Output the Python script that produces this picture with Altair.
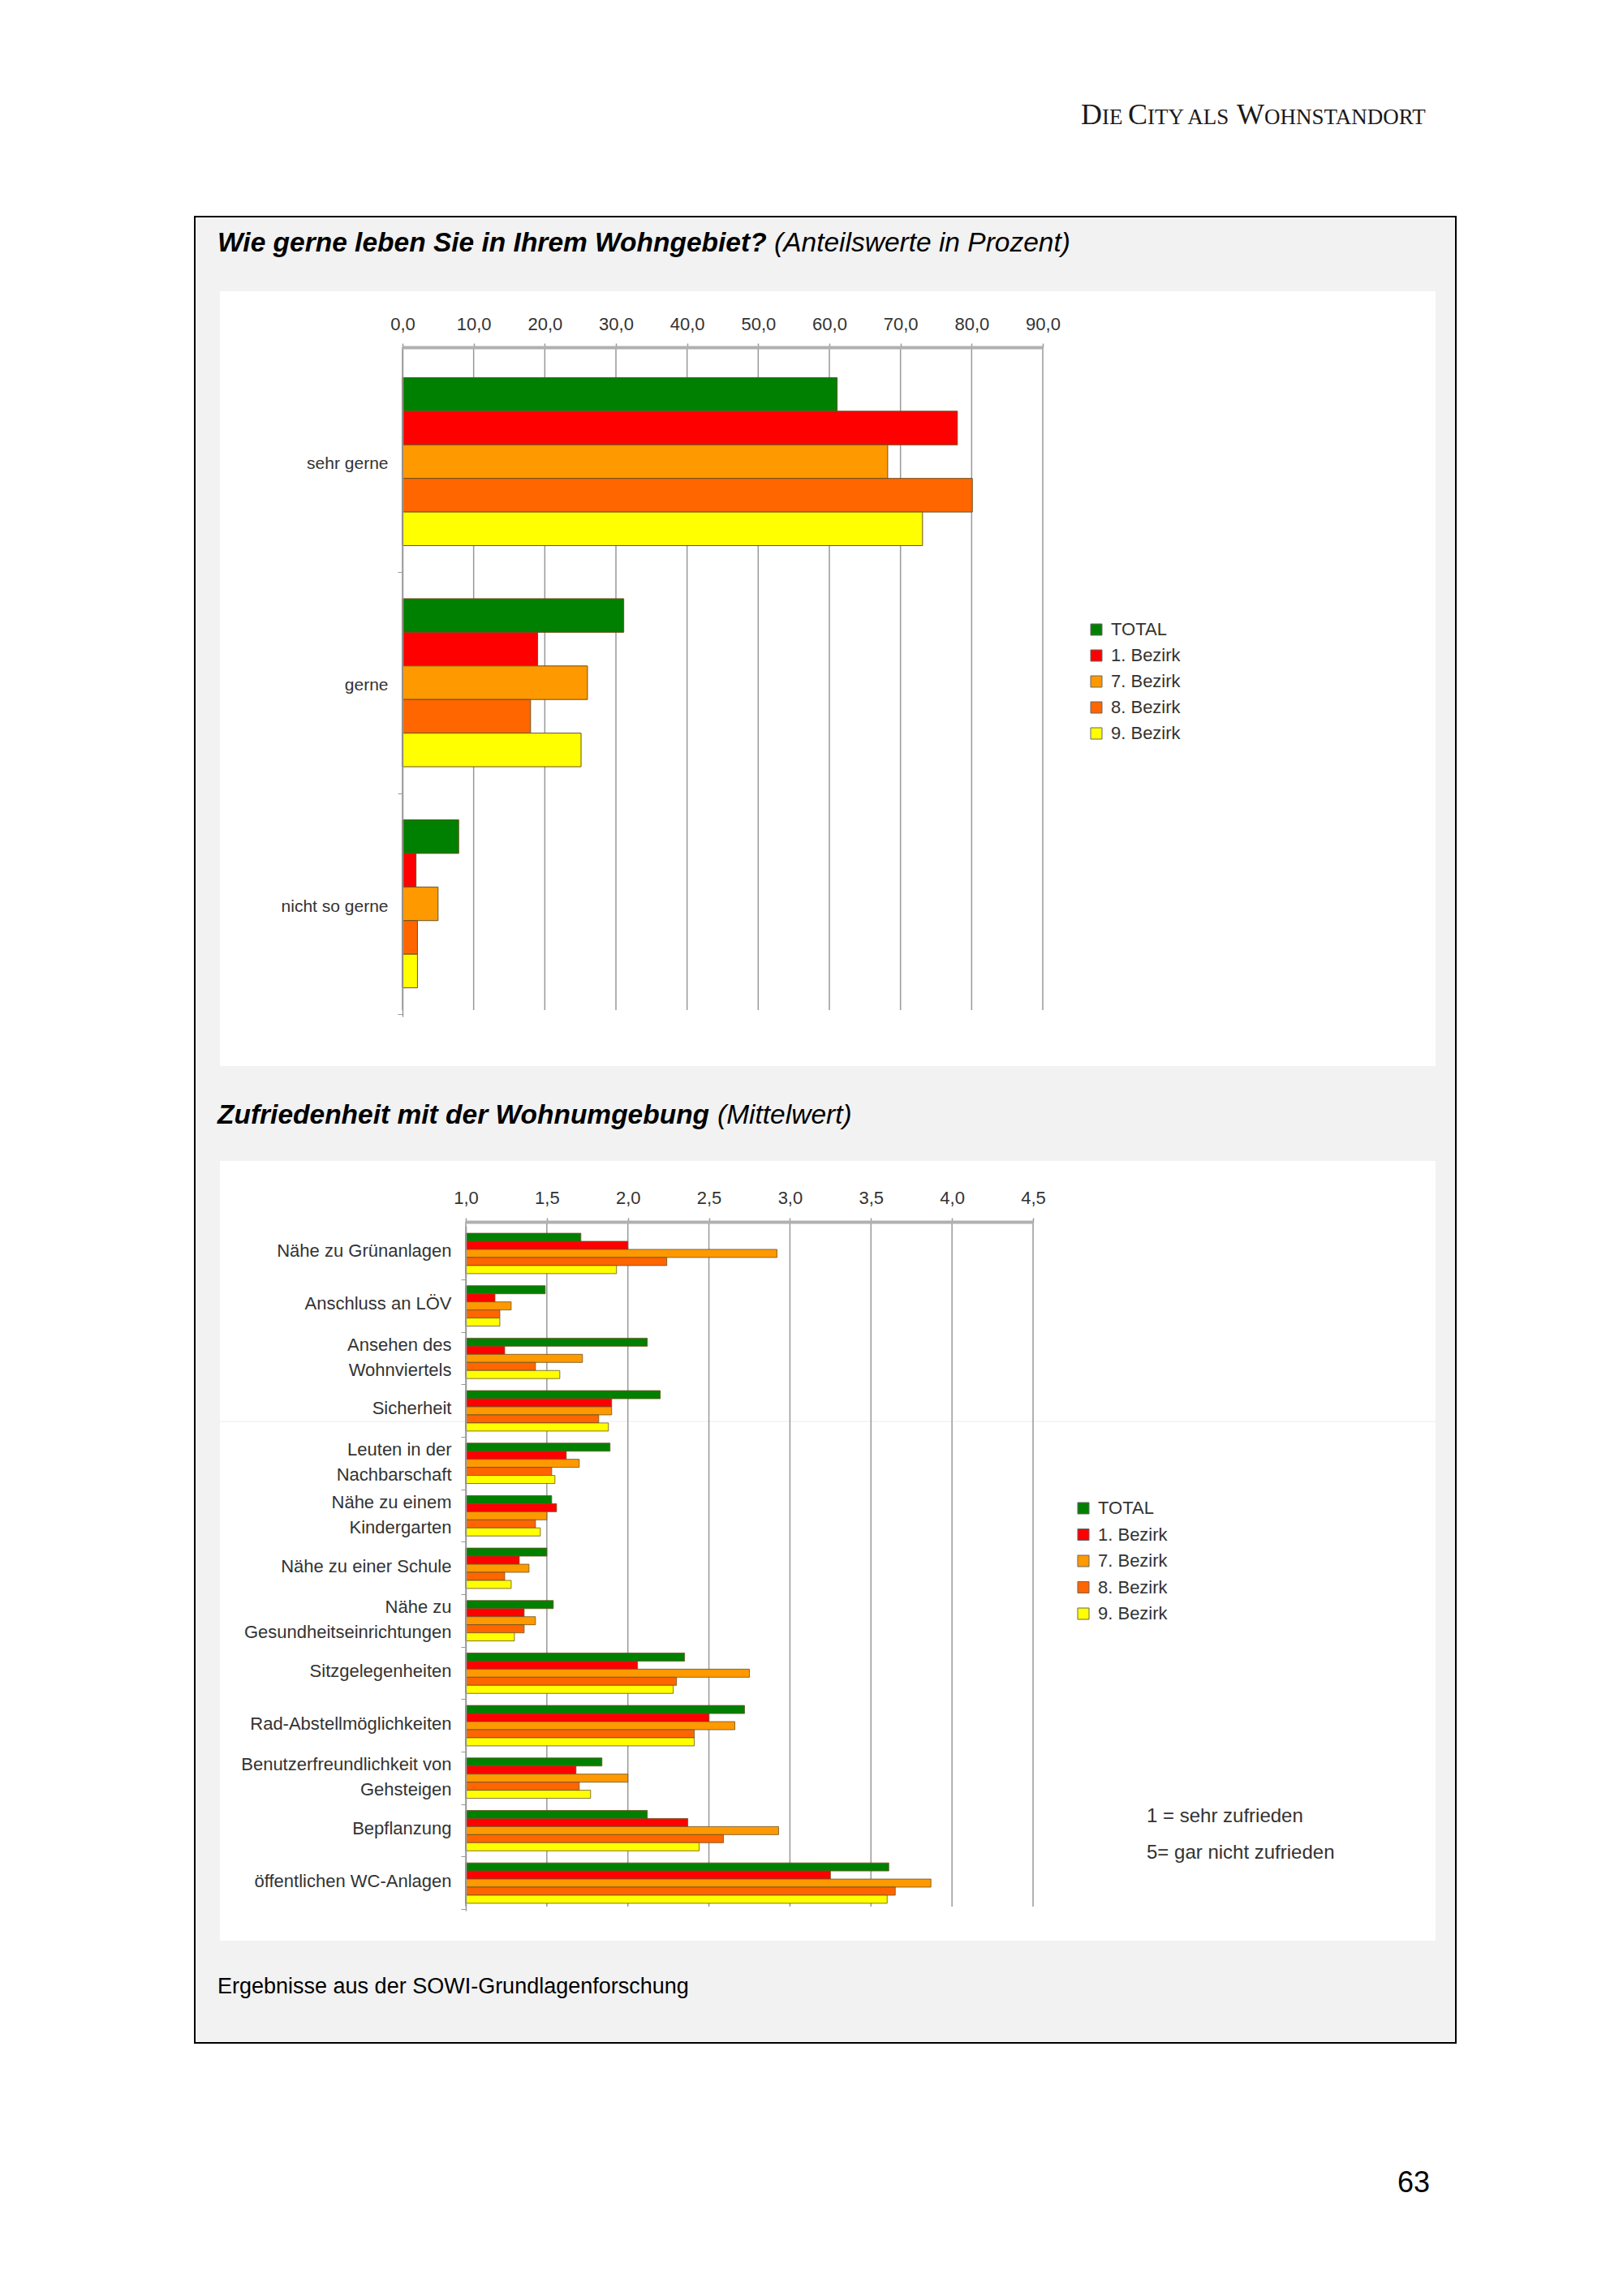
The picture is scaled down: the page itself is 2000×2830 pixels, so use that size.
import altair as alt
import pandas as pd

# ---------------- data ----------------
series = ["TOTAL", "1. Bezirk", "7. Bezirk", "8. Bezirk", "9. Bezirk"]
colors = ["#008000", "#ff0000", "#ff9900", "#ff6600", "#ffff00"]

# Chart 1: Wie gerne leben Sie in Ihrem Wohngebiet? (Prozent)
c1_categories = ["sehr gerne", "gerne", "nicht so gerne"]
c1_total = [61.1, 31.1, 7.9]
c1_b1 = [78.0, 19.0, 1.9]
c1_b7 = [68.2, 26.0, 5.0]
c1_b8 = [80.1, 18.0, 2.1]
c1_b9 = [73.1, 25.1, 2.1]
c1_ticks = [0, 10, 20, 30, 40, 50, 60, 70, 80, 90]

# Chart 2: Zufriedenheit mit der Wohnumgebung (Mittelwert)
c2_categories = [
    "Nähe zu Grünanlagen",
    "Anschluss an LÖV",
    "Ansehen des|Wohnviertels",
    "Sicherheit",
    "Leuten in der|Nachbarschaft",
    "Nähe zu einem|Kindergarten",
    "Nähe zu einer Schule",
    "Nähe zu|Gesundheitseinrichtungen",
    "Sitzgelegenheiten",
    "Rad-Abstellmöglichkeiten",
    "Benutzerfreundlichkeit von|Gehsteigen",
    "Bepflanzung",
    "öffentlichen WC-Anlagen",
]
c2_total = [1.71, 1.49, 2.12, 2.20, 1.89, 1.53, 1.50, 1.54, 2.35, 2.72, 1.84, 2.12, 3.61]
c2_b1 = [2.00, 1.18, 1.24, 1.90, 1.62, 1.56, 1.33, 1.36, 2.06, 2.50, 1.68, 2.37, 3.25]
c2_b7 = [2.92, 1.28, 1.72, 1.90, 1.70, 1.50, 1.39, 1.43, 2.75, 2.66, 2.00, 2.93, 3.87]
c2_b8 = [2.24, 1.21, 1.43, 1.82, 1.53, 1.43, 1.24, 1.36, 2.30, 2.41, 1.70, 2.59, 3.65]
c2_b9 = [1.93, 1.21, 1.58, 1.88, 1.55, 1.46, 1.28, 1.30, 2.28, 2.41, 1.77, 2.44, 3.60]
c2_ticks = [1.0, 1.5, 2.0, 2.5, 3.0, 3.5, 4.0, 4.5]

header_pieces = ["D", "IE", "C", "ITY ALS", "W", "OHNSTANDORT"]
title1_bold = "Wie gerne leben Sie in Ihrem Wohngebiet?"
title1_ital = "(Anteilswerte in Prozent)"
title2_bold = "Zufriedenheit mit der Wohnumgebung"
title2_ital = "(Mittelwert)"
note_lines = ["1 = sehr zufrieden", "5= gar nicht zufrieden"]
footer_text = "Ergebnisse aus der SOWI-Grundlagenforschung"
page_number = "63"


def long_df(cats, lists):
    rows = []
    for s, vals in zip(series, lists):
        for c, v in zip(cats, vals):
            rows.append({"category": c, "series": s, "value": v})
    return pd.DataFrame(rows)


df1 = long_df(c1_categories, [c1_total, c1_b1, c1_b7, c1_b8, c1_b9])
df2 = long_df(c2_categories, [c2_total, c2_b1, c2_b7, c2_b8, c2_b9])

FONT = "Liberation Sans"
W, H = 1984, 2814
one = pd.DataFrame({"a": [0]})

# ---------------- page decoration ----------------
box = alt.Chart(one).mark_rect(fill="#f2f2f2", stroke="#000000", strokeWidth=2).encode(
    x=alt.value(232), x2=alt.value(1786), y=alt.value(259), y2=alt.value(2510))
panel1 = alt.Chart(one).mark_rect(fill="#ffffff").encode(
    x=alt.value(263), x2=alt.value(1761), y=alt.value(351), y2=alt.value(1306))
panel2 = alt.Chart(one).mark_rect(fill="#ffffff").encode(
    x=alt.value(263), x2=alt.value(1761), y=alt.value(1423), y2=alt.value(2384))
faint = alt.Chart(one).mark_rule(color="#ececec", strokeWidth=1).encode(
    x=alt.value(263), x2=alt.value(1761), y=alt.value(1744))

hdr = pd.DataFrame({
    "text": header_pieces,
    "x": [1324, 1350, 1382, 1406, 1516, 1550],
    "y": [145] * 6,
    "s": [36, 27, 36, 27, 36, 27],
})
header = alt.Chart(hdr).mark_text(font="Liberation Serif", align="left", baseline="alphabetic",
                                  color="#1a1a1a").encode(
    x=alt.X("x:Q", scale=None, axis=None), y=alt.Y("y:Q", scale=None, axis=None),
    size=alt.Size("s:Q", scale=None, legend=None), text="text:N")

tb = pd.DataFrame({"text": [title1_bold, title2_bold], "x": [260, 260], "y": [302, 1377]})
ti = pd.DataFrame({"text": [title1_ital, title2_ital], "x": [946, 876], "y": [302, 1377]})
titles_b = alt.Chart(tb).mark_text(font=FONT, fontSize=33.5, fontWeight="bold", fontStyle="italic",
                                   align="left", baseline="alphabetic", color="#000").encode(
    x=alt.X("x:Q", scale=None, axis=None), y=alt.Y("y:Q", scale=None, axis=None), text="text:N")
titles_i = alt.Chart(ti).mark_text(font=FONT, fontSize=33.5, fontStyle="italic",
                                   align="left", baseline="alphabetic", color="#000").encode(
    x=alt.X("x:Q", scale=None, axis=None), y=alt.Y("y:Q", scale=None, axis=None), text="text:N")

misc = pd.DataFrame({
    "text": note_lines + [footer_text],
    "x": [1405, 1405, 260],
    "y": [2238, 2283, 2449],
    "s": [24, 24, 27],
    "c": ["#333333", "#333333", "#000000"],
})
misc_t = alt.Chart(misc).mark_text(font=FONT, align="left", baseline="alphabetic").encode(
    x=alt.X("x:Q", scale=None, axis=None), y=alt.Y("y:Q", scale=None, axis=None),
    size=alt.Size("s:Q", scale=None, legend=None),
    color=alt.Color("c:N", scale=None, legend=None), text="text:N")
pnum = alt.Chart(pd.DataFrame({"text": [page_number]})).mark_text(
    font=FONT, fontSize=36, align="right", baseline="alphabetic", color="#000").encode(
    x=alt.value(1754), y=alt.value(2694), text="text:N")

decor = alt.layer(box, panel1, panel2, faint, header, titles_b, titles_i, misc_t, pnum)

label_expr = "replace(format(datum.value, '.1f'), '.', ',')"


def x_axis(offset, values, pad):
    return alt.Axis(orient="top", offset=offset, values=values, labelExpr=label_expr,
                    grid=False, title=None, domainColor="#b0b0b0", domainWidth=4,
                    tickColor="#999999", tickSize=5, tickWidth=1.5, labelFont=FONT,
                    labelFontSize=22, labelColor="#333333", labelPadding=pad,
                    labelFlush=False, labelOverlap=False, zindex=2)


def legend(lx, ly, rowpad):
    return alt.Legend(orient="none", legendX=lx, legendY=ly, title=None, symbolType="square",
                      symbolSize=196, symbolStrokeColor="#666666", symbolStrokeWidth=1,
                      symbolOpacity=1, labelFont=FONT, labelFontSize=22, labelColor="#333333",
                      rowPadding=rowpad, labelOffset=7, padding=0, zindex=2)


# ---------------- chart 1 ----------------
x1 = alt.Scale(domain=[0, 90], range=[488, 1277], nice=False, zero=False)
ax1 = x_axis(-420, c1_ticks, 12)
grid1 = alt.Chart(pd.DataFrame({"v": c1_ticks})).mark_rule(color="#999999", strokeWidth=1.5).encode(
    x=alt.X("v:Q", scale=x1, axis=ax1), y=alt.value(420), y2=alt.value(1237))
bars1 = alt.Chart(df1).mark_bar(stroke="#6b5020", strokeWidth=1).encode(
    x=alt.X("value:Q", scale=x1, axis=ax1),
    x2=alt.datum(0),
    y=alt.Y("category:N", sort=c1_categories,
            scale=alt.Scale(domain=c1_categories, range=[422, 1245], paddingInner=0.24, paddingOuter=0.13),
            axis=alt.Axis(orient="left", offset=-488, title=None, domainColor="#999999", domainWidth=1.5,
                          tickColor="#999999", tickSize=6, tickOffset=136, labelOffset=-133,
                          labelFont=FONT, labelFontSize=21, labelColor="#333333", labelPadding=12,
                          labelLimit=400, zindex=2)),
    yOffset=alt.YOffset("series:N", sort=series,
                        scale=alt.Scale(domain=series, paddingInner=0, paddingOuter=0)),
    color=alt.Color("series:N", sort=series, scale=alt.Scale(domain=series, range=colors),
                    legend=legend(1332, 757, 10)),
)
chart1 = alt.layer(grid1, bars1)

# ---------------- chart 2 ----------------
x2s = alt.Scale(domain=[1.0, 4.5], range=[566, 1265], nice=False, zero=False)
ax2 = x_axis(-1498, c2_ticks, 13)
grid2 = alt.Chart(pd.DataFrame({"v": c2_ticks})).mark_rule(color="#999999", strokeWidth=1.5).encode(
    x=alt.X("v:Q", scale=x2s, axis=ax2), y=alt.value(1498), y2=alt.value(2342))
bars2 = alt.Chart(df2).mark_bar(stroke="#6b5020", strokeWidth=0.8).encode(
    x=alt.X("value:Q", scale=x2s, axis=ax2),
    x2=alt.datum(1.0),
    y=alt.Y("category:N", sort=c2_categories,
            scale=alt.Scale(domain=c2_categories, range=[1503, 2347], paddingInner=0.23, paddingOuter=0.14),
            axis=alt.Axis(orient="left", offset=-566, title=None, domainColor="#999999", domainWidth=1.5,
                          tickColor="#999999", tickSize=6, tickOffset=32,
                          labelOffset={"condition": {"test": "indexof(datum.value, '|') >= 0",
                                                     "value": -49},
                                       "value": -35},
                          labelFont=FONT, labelFontSize=22, labelColor="#333333", labelPadding=12,
                          labelLimit=500, labelLineHeight=31,
                          labelExpr="split(datum.label, '|')", zindex=2)),
    yOffset=alt.YOffset("series:N", sort=series,
                        scale=alt.Scale(domain=series, paddingInner=0, paddingOuter=0)),
    color=alt.Color("series:N", sort=series, scale=alt.Scale(domain=series, range=colors),
                    legend=legend(1316, 1840, 10.5)),
)
chart2 = alt.layer(grid2, bars2)

chart = alt.layer(decor, chart1, chart2).resolve_scale(
    x="independent", y="independent", color="independent", yOffset="independent"
).properties(
    width=W, height=H, autosize=alt.AutoSizeParams(type="none"), padding=0,
    background="#ffffff",
).configure_view(stroke=None)

chart.save("out.html", embed_options={"renderer": "svg", "actions": False})
